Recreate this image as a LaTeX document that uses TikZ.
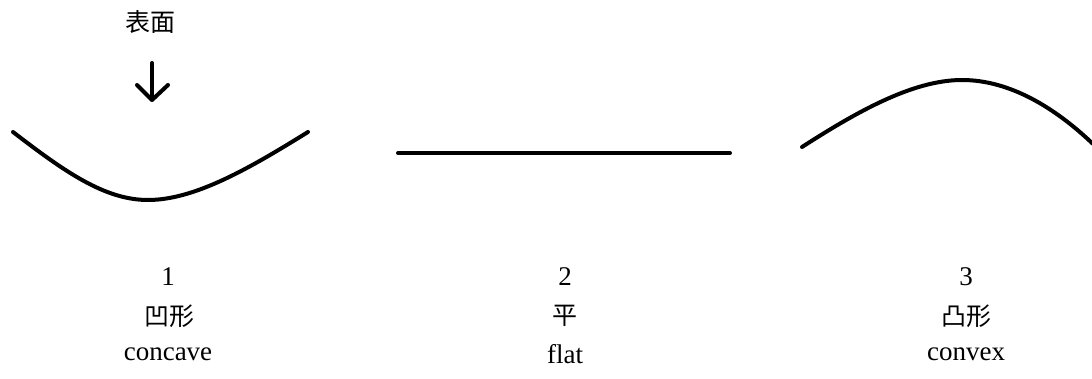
\documentclass[tikz,border=0pt]{standalone}
\usepackage{fontspec}
\setmainfont{Liberation Serif}
\newfontfamily\cjk{Noto Sans CJK SC}
\begin{document}
\begin{tikzpicture}[x=1pt,y=-1pt,
  lbl/.style={inner sep=0pt,font=\fontsize{27}{30}\selectfont},
  cjklbl/.style={inner sep=0pt,font=\cjk\fontsize{25}{28}\selectfont},
  curveline/.style={line width=4pt,line cap=round,line join=round}]
\useasboundingbox (0,0) rectangle (1092,379);
% surface label and arrow
\node[cjklbl] (surf) at (150,22) {表面};
\coordinate (atop) at (152,63);
\coordinate (atip) at (152,100);
\coordinate (wl) at (137,85);
\coordinate (wr) at (168,85);
\draw[curveline] (atop) -- (atip);
\draw[curveline] (wl) -- (atip) -- (wr);
% concave
\coordinate (c1) at (13,132);
\coordinate (c2) at (148,200);
\coordinate (c3) at (308,132);
\draw[curveline] (c1) .. controls (65,172) and (105,200) .. (c2)
  .. controls (195,200) and (250,168) .. (c3);
% flat
\coordinate (f1) at (398,153);
\coordinate (f2) at (730,153);
\draw[curveline] (f1) -- (f2);
% convex
\coordinate (v1) at (802,147);
\coordinate (v2) at (962,80);
\coordinate (v3) at (1092,143);
\begin{scope}
\clip (0,0) rectangle (1092,379);
\draw[curveline] (v1) .. controls (855,113) and (912,80) .. (v2)
  .. controls (1010,80) and (1055,108) .. (v3) -- (1100,150);
\end{scope}
% labels
\node[lbl] (n1) at (168,277) {1};
\node[cjklbl] (k1) at (169,316) {凹形};
\node[lbl] (e1) at (168,354) {concave};
\node[lbl] (n2) at (565,277) {2};
\node[cjklbl] (k2) at (565,316) {平};
\node[lbl] (e2) at (565,354) {flat};
\node[lbl] (n3) at (966,277) {3};
\node[cjklbl] (k3) at (966,316) {凸形};
\node[lbl] (e3) at (966,354) {convex};
\end{tikzpicture}
\end{document}
